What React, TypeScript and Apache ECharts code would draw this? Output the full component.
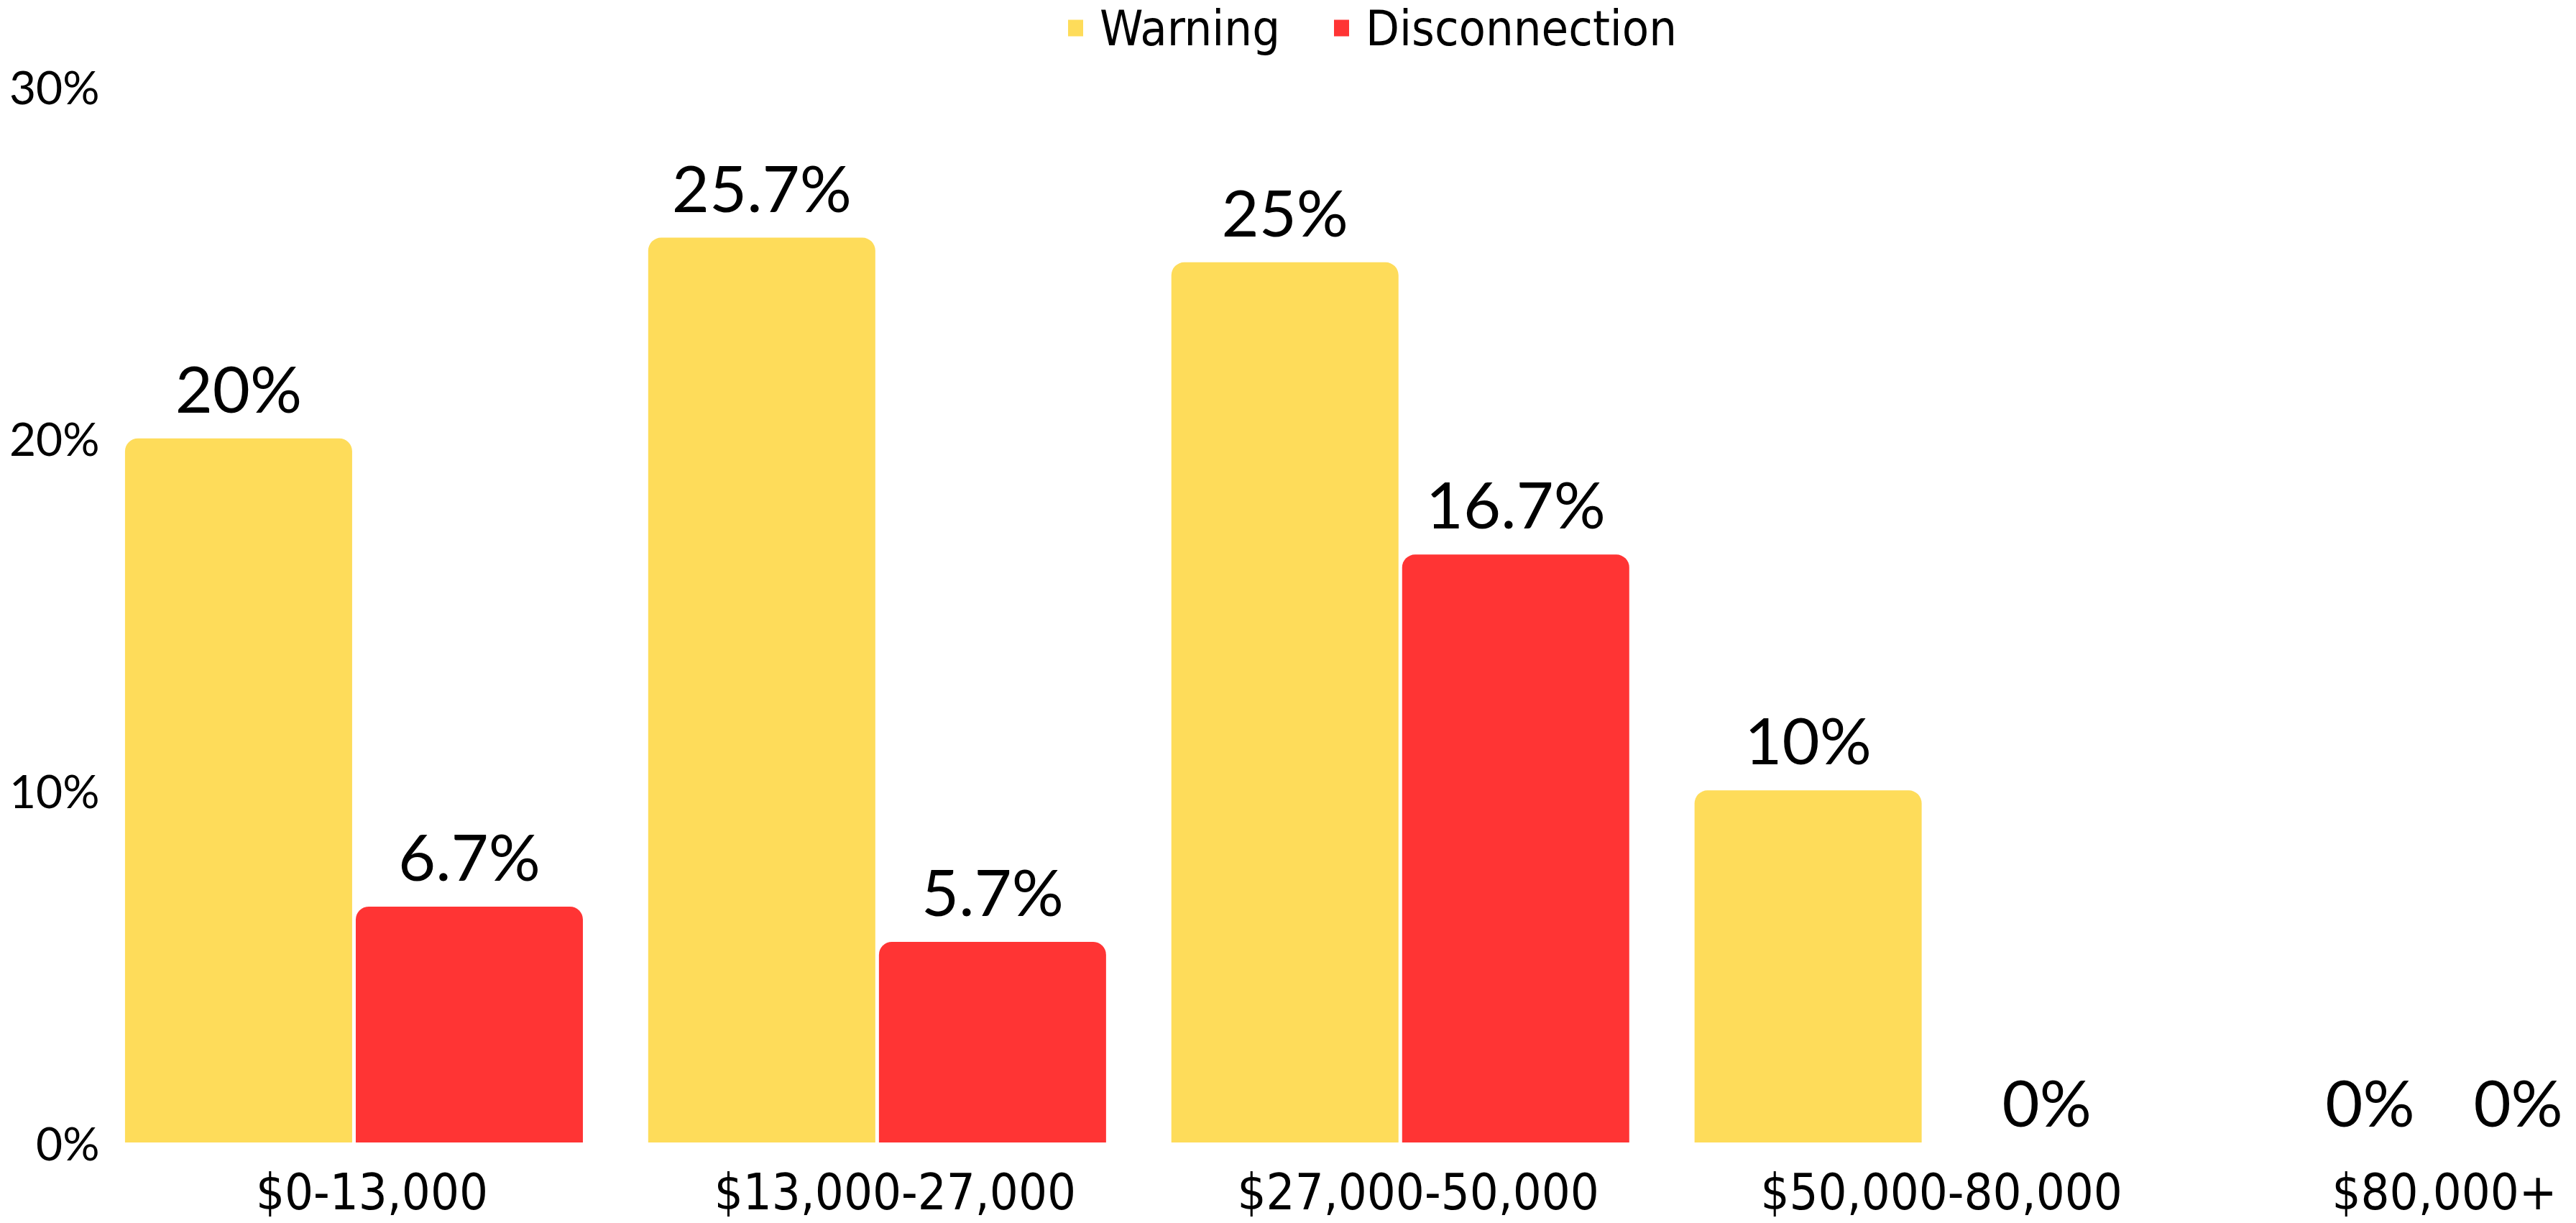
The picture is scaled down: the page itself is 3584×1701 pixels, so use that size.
import React, { useEffect, useRef } from 'react';
import * as echarts from 'echarts';

const categories = ['$0-13,000', '$13,000-27,000', '$27,000-50,000', '$50,000-80,000', '$80,000+'];
const seriesNames = ['Warning', 'Disconnection'];
const warningValues = [20, 25.7, 25, 10, 0];
const disconnectionValues = [6.7, 5.7, 16.7, 0, 0];
const yMin = 0;
const yMax = 30;
const yInterval = 10;

const YELLOW = '#FEDC5A';
const RED = '#FF3434';
const NUM_FONT = 'Lato, "Noto Sans", sans-serif';
const TXT_FONT = '"DejaVu Sans Condensed", "Liberation Sans Narrow", "DejaVu Sans", sans-serif';

export default function App() {
  const ref = useRef<HTMLDivElement>(null);
  useEffect(() => {
    const chart = echarts.init(ref.current!, null, { renderer: 'svg' });
    const labelBase = {
      show: true,
      position: 'top',
      distance: 26,
      formatter: '{c}%',
      color: '#000',
      fontFamily: NUM_FONT,
      fontSize: 90,
    };
    const warnData = warningValues.map((v, i) =>
      i === 4 ? { value: v, label: { offset: [54, 14] } } : v
    );
    const discData = disconnectionValues.map((v, i) =>
      i === 4
        ? { value: v, label: { offset: [-61, 14] } }
        : i === 3
        ? { value: v, label: { offset: [11, 14] } }
        : v
    );
    chart.setOption({
      animation: false,
      backgroundColor: '#fff',
      legend: {
        data: seriesNames,
        left: 1481,
        top: 0,
        itemWidth: 21,
        itemHeight: 23,
        itemGap: 75,
        icon: 'rect',
        textStyle: {
          fontFamily: TXT_FONT,
          fontSize: 68,
          color: '#000',
          padding: [0, 0, 0, 18],
        },
      },
      grid: { left: 128.5, right: 0, top: 120, bottom: 112, containLabel: false },
      xAxis: {
        type: 'category',
        data: categories.map((c, i) => ({
          value: c,
          textStyle: { padding: i < 4 ? [0, 0, 0, 50] : [0, 6, 0, 0] },
        })),
        axisLine: { show: false },
        axisTick: { show: false },
        axisLabel: {
          color: '#000',
          fontFamily: TXT_FONT,
          fontSize: 70,
          margin: 34,
          interval: 0,
        },
      },
      yAxis: {
        type: 'value',
        min: yMin,
        max: yMax,
        interval: yInterval,
        splitLine: { show: false },
        axisLine: { show: false },
        axisTick: { show: false },
        axisLabel: {
          formatter: '{value}%',
          color: '#000',
          fontFamily: NUM_FONT,
          fontSize: 64,
          margin: -10,
        },
      },
      series: [
        {
          name: seriesNames[0],
          type: 'bar',
          data: warnData,
          barWidth: 316,
          barGap: '1.6%',
          itemStyle: { color: YELLOW, borderRadius: [18, 18, 0, 0] },
          label: labelBase,
        },
        {
          name: seriesNames[1],
          type: 'bar',
          data: discData,
          barWidth: 316,
          barGap: '1.6%',
          itemStyle: { color: RED, borderRadius: [18, 18, 0, 0] },
          label: labelBase,
        },
      ],
    });
    return () => chart.dispose();
  }, []);
  return (
    <div
      style={{ position: 'fixed', left: 0, top: 0, width: 3584, height: 1701, overflow: 'hidden', background: '#fff' }}
    >
      <div ref={ref} style={{ width: 3768, height: 1701 }} />
    </div>
  );
}
